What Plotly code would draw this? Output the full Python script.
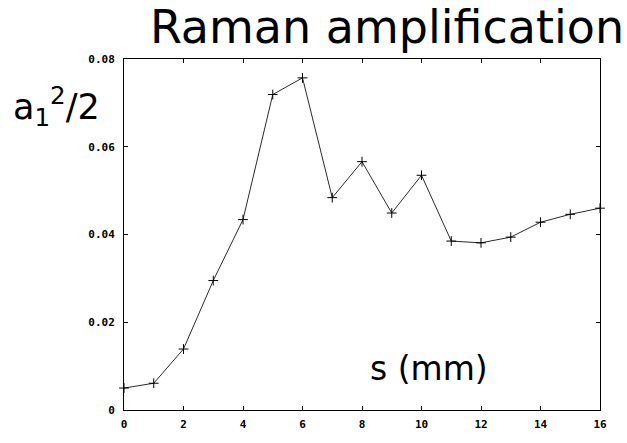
import plotly.graph_objects as go

# Raman amplification: a1^2/2 versus propagation distance s
s_mm = [0, 1, 2, 3, 4, 5, 6, 7, 8, 9, 10, 11, 12, 13, 14, 15, 16]
a1_sq_half = [0.0050, 0.0061, 0.0139, 0.0295, 0.0434, 0.0719, 0.0757,
              0.0484, 0.0566, 0.0449, 0.0535, 0.0385, 0.0381, 0.0394,
              0.0428, 0.0446, 0.0460]

x_ticks = [0, 2, 4, 6, 8, 10, 12, 14, 16]
y_ticks = [0, 0.02, 0.04, 0.06, 0.08]
y_tick_text = ["0", "0.02", "0.04", "0.06", "0.08"]

fig = go.Figure()
fig.add_trace(go.Scatter(
    x=s_mm, y=a1_sq_half,
    mode="lines+markers",
    line=dict(color="#2a2a2a", width=1),
    marker=dict(symbol="cross-thin", size=7,
                line=dict(color="black", width=1), color="black"),
    showlegend=False,
    cliponaxis=False,
))

tick_font = dict(family="DejaVu Sans Mono", size=11, color="black",
                 weight="bold")
axis_common = dict(
    showline=True, linecolor="black", linewidth=1, mirror="allticks",
    ticks="inside", ticklen=4, tickwidth=1, tickcolor="black",
    showgrid=False, zeroline=False, tickfont=tick_font,
)

fig.update_xaxes(range=[0, 16], tickvals=x_ticks, ticklabelstandoff=4,
                 **axis_common)
fig.update_yaxes(range=[0, 0.08], tickvals=y_ticks, ticktext=y_tick_text,
                 ticklabelstandoff=6, **axis_common)

fig.update_layout(
    width=627, height=443,
    margin=dict(l=124, r=27, t=59, b=19),
    paper_bgcolor="white", plot_bgcolor="white",
    title=dict(text="Raman amplification", x=387 / 627, y=1 - 27 / 443,
               xanchor="center", yanchor="middle",
               font=dict(family="DejaVu Sans", size=46, color="black")),
    annotations=[
        dict(text="a<sub>1</sub><sup>2</sup>/2", xref="paper", yref="paper",
             x=-0.141, y=0.866, xanchor="center", yanchor="middle",
             showarrow=False,
             font=dict(family="DejaVu Sans", size=35, color="black")),
        dict(text="s (mm)", xref="paper", yref="paper",
             x=0.641, y=0.118, xanchor="center", yanchor="middle",
             showarrow=False,
             font=dict(family="DejaVu Sans", size=33, color="black")),
    ],
)

fig.write_html("out.html")
